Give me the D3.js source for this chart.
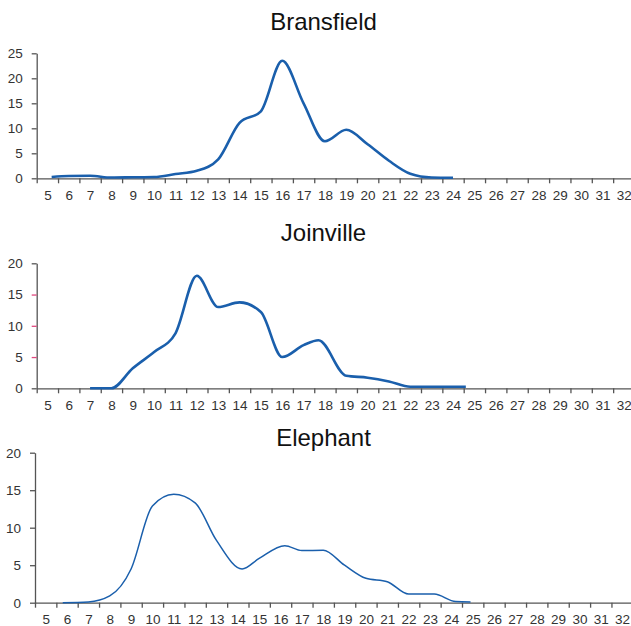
<!DOCTYPE html>
<html>
<head>
<meta charset="utf-8">
<script src="https://cdn.jsdelivr.net/npm/d3@7"></script>
<style>
  body { margin: 0; background: #fff; }
  svg { display: block; font-family: "Liberation Sans", Arial, sans-serif; }
</style>
</head>
<body>
<svg id="chart" width="631" height="626"></svg>
<script>
// Length classes shown on every x axis
const lengthClasses = [5, 6, 7, 8, 9, 10, 11, 12, 13, 14, 15, 16, 17, 18, 19, 20,
                       21, 22, 23, 24, 25, 26, 27, 28, 29, 30, 31, 32];

// Bransfield length-frequency (%)
const bransfieldLength = [5.2, 6, 7, 8, 9, 10, 11, 12, 13, 14, 15, 16, 17, 18, 19, 20, 21, 22, 23, 24];
const bransfieldPct    = [0.25, 0.45, 0.5, 0.15, 0.2, 0.25, 0.85, 1.5, 3.8, 11.1, 13.4, 23.5, 15.0, 7.4, 9.7, 6.8, 3.5, 0.9, 0.15, 0.1];

// Joinville length-frequency (%)
const joinvilleLength = [7, 8, 9, 10, 11, 12, 13, 14, 15, 16, 17, 17.7, 19, 20, 21, 22, 23, 24, 24.6];
const joinvillePct    = [0, 0, 3.2, 5.8, 8.8, 18.0, 13.0, 13.75, 12.2, 5.0, 6.9, 7.7, 2.0, 1.7, 1.1, 0.25, 0.25, 0.25, 0.25];

// Elephant length-frequency (%)
const elephantLength = [5.8, 7, 8, 9, 10, 11, 12, 13, 14.2, 15, 16.2, 17, 18, 19, 20, 21, 22, 23.2, 24.2, 24.9];
const elephantPct    = [0, 0.1, 0.9, 4.5, 12.9, 14.45, 13.3, 8.3, 4.5, 5.9, 7.6, 6.95, 7.0, 5.0, 3.25, 2.8, 1.15, 1.15, 0.15, 0.1];

// Y tick values per panel
const bransfieldYTicks = [0, 5, 10, 15, 20, 25];
const joinvilleYTicks  = [0, 5, 10, 15, 20];
const elephantYTicks   = [0, 5, 10, 15, 20];

const panels = [
  { title: "Bransfield", xs: bransfieldLength, ys: bransfieldPct, yTicks: bransfieldYTicks,
    left: 36.7, top: 53.3, bottom: 178.3, titleY: 30, stroke: 2.6, accent: [] },
  { title: "Joinville", xs: joinvilleLength, ys: joinvillePct, yTicks: joinvilleYTicks,
    left: 36.7, top: 263.3, bottom: 388.3, titleY: 241, stroke: 2.6, accent: [5, 10, 15] },
  { title: "Elephant", xs: elephantLength, ys: elephantPct, yTicks: elephantYTicks,
    left: 35, top: 452.7, bottom: 602.7, titleY: 446, stroke: 1.5, accent: [] }
];

const bandWidth = 21.35;
const svg = d3.select("#chart");
const lineColor = "#1a5fac";

panels.forEach(p => {
  const g = svg.append("g");

  const x = d3.scaleLinear()
    .domain([lengthClasses[0] - 0.5, lengthClasses[lengthClasses.length - 1] + 0.5])
    .range([p.left, p.left + bandWidth * lengthClasses.length]);

  const yMax = p.yTicks[p.yTicks.length - 1];
  const y = d3.scaleLinear().domain([0, yMax]).range([p.bottom, p.top]);

  // Title
  g.append("text")
    .attr("x", 323.5)
    .attr("y", p.titleY)
    .attr("text-anchor", "middle")
    .attr("font-size", 24)
    .attr("fill", "#111")
    .text(p.title);

  // X axis: tick marks between classes
  const xTickAxis = d3.axisBottom(x)
    .tickValues(lengthClasses.map(d => d - 0.5).concat([lengthClasses[lengthClasses.length - 1] + 0.5]))
    .tickSize(5)
    .tickSizeOuter(0)
    .tickFormat("");
  const gx = g.append("g").attr("transform", `translate(0,${p.bottom})`).call(xTickAxis);
  gx.selectAll("path, line").attr("stroke", "#555").attr("stroke-width", 1.3);

  // X axis: class labels centred in each band
  const xLabelAxis = d3.axisBottom(x)
    .tickValues(lengthClasses)
    .tickSize(0)
    .tickPadding(12)
    .tickFormat(d3.format("d"));
  const gxl = g.append("g").attr("transform", `translate(0,${p.bottom})`).call(xLabelAxis);
  gxl.select(".domain").remove();
  gxl.selectAll("text").attr("font-size", 13.5).attr("fill", "#333").attr("font-family", null);

  // Y axis
  const yAxis = d3.axisLeft(y)
    .tickValues(p.yTicks)
    .tickSize(5)
    .tickSizeOuter(0)
    .tickPadding(9)
    .tickFormat(d3.format("d"));
  const gy = g.append("g").attr("transform", `translate(${p.left},0)`).call(yAxis);
  gy.selectAll("path, line").attr("stroke", "#555").attr("stroke-width", 1.3);
  gy.selectAll(".tick").filter(d => p.accent.includes(d)).select("line").attr("stroke", "#e0487f");
  gy.selectAll("text").attr("font-size", 13.5).attr("fill", "#333").attr("font-family", null);

  // Smoothed frequency curve
  const line = d3.line()
    .x((d, i) => x(p.xs[i]))
    .y(d => y(d))
    .curve(d3.curveMonotoneX);

  g.append("path")
    .datum(p.ys)
    .attr("fill", "none")
    .attr("stroke", lineColor)
    .attr("stroke-width", p.stroke)
    .attr("stroke-linejoin", "round")
    .attr("d", line);
});
</script>
</body>
</html>
